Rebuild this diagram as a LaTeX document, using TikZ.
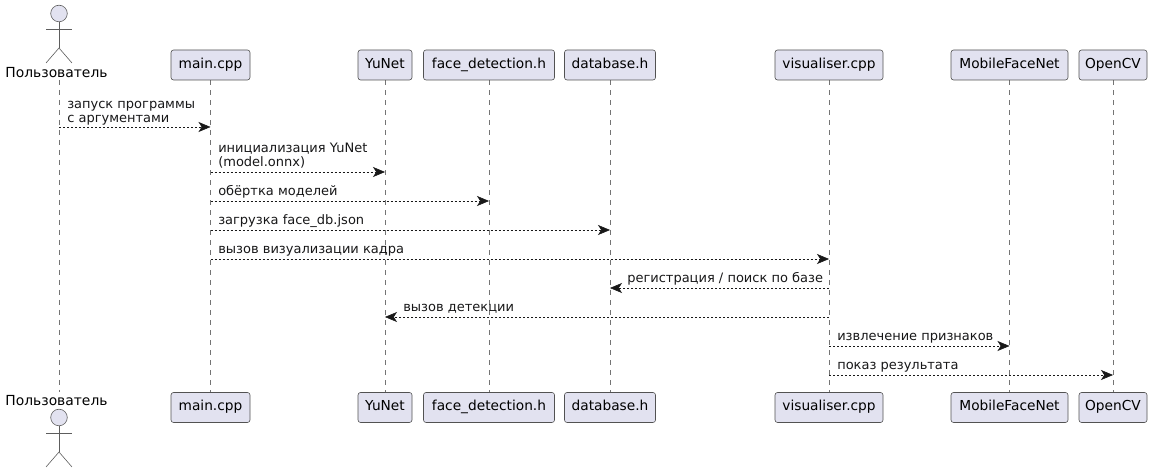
\documentclass[tikz,border=0pt]{standalone}
\usepackage{fontspec}
\setmainfont{DejaVu Sans}
\usetikzlibrary{arrows.meta,backgrounds}
\definecolor{partfill}{HTML}{E2E2F0}
\definecolor{partline}{HTML}{181818}
\tikzset{
  x=0.75pt,y=-0.75pt,
  part/.style={draw=partline!75,fill=partfill,rounded corners=1.9pt,line width=0.45pt,minimum height=22.5pt,inner sep=0pt,font=\fontsize{10.3pt}{12pt}\selectfont,text=black,text height=7.3pt,text depth=2.7pt},
  lifel/.style={draw=partline!60,line width=0.4pt,dash pattern=on 3.75pt off 3.75pt},
  msg/.style={draw=partline,line width=0.4pt,dash pattern=on 1.5pt off 1.5pt,-{Stealth[length=9pt,width=7.5pt,inset=2.4pt,fill=partline]}},
  msgtext/.style={anchor=base west,inner sep=0pt,font=\fontsize{9.75pt}{12pt}\selectfont,text=black!90!partfill,align=left},
  actorlabel/.style={inner sep=0pt,font=\fontsize{10.4pt}{12pt}\selectfont,text=black,text height=7.8pt,text depth=2.2pt},
  actorline/.style={draw=partline!70,line width=0.45pt},
  actorhead/.style={draw=partline!70,fill=partfill,line width=0.45pt},
}
\newcommand{\stickman}[2]{%
  \draw[actorline] (#1,#2+17) -- (#1,#2+43);
  \draw[actorline] (#1-13,#2+24) -- (#1+13,#2+24);
  \draw[actorline] (#1-13,#2+58) -- (#1,#2+43) -- (#1+13,#2+58);
  \draw[actorhead] (#1,#2+8.5) circle[radius=8.3];
}
\begin{document}
\begin{tikzpicture}
\useasboundingbox (0,0) rectangle (1154,473);
\coordinate (ut) at (59,80); \coordinate (ub) at (59,392);
\coordinate (m1) at (0,127); \coordinate (m2) at (0,172); \coordinate (m3) at (0,201);
\coordinate (m4) at (0,230); \coordinate (m5) at (0,259); \coordinate (m6) at (0,288);
\coordinate (m7) at (0,317); \coordinate (m8) at (0,346); \coordinate (m9) at (0,375);
% top
\node[part,minimum width=59.25pt] (maint) at (210.5,65) {main.cpp};
\node[part,minimum width=40.5pt] (yut) at (385,65) {YuNet};
\node[part,minimum width=98.25pt] (fdt) at (489,65) {face\_detection.h};
\node[part,minimum width=68.25pt] (dbt) at (610,65) {database.h};
\node[part,minimum width=81pt] (vit) at (829,65) {visualiser.cpp};
\node[part,minimum width=87.75pt] (mot) at (1009.5,65) {MobileFaceNet};
\node[part,minimum width=51pt] (ocvt) at (1113,65) {OpenCV};
% bottom
\node[part,minimum width=59.25pt] (mainb) at (210.5,407.5) {main.cpp};
\node[part,minimum width=40.5pt] (yub) at (385,407.5) {YuNet};
\node[part,minimum width=98.25pt] (fdb) at (489,407.5) {face\_detection.h};
\node[part,minimum width=68.25pt] (dbb) at (610,407.5) {database.h};
\node[part,minimum width=81pt] (vib) at (829,407.5) {visualiser.cpp};
\node[part,minimum width=87.75pt] (mob) at (1009.5,407.5) {MobileFaceNet};
\node[part,minimum width=51pt] (ocvb) at (1113,407.5) {OpenCV};
% lifelines
\begin{scope}[on background layer]
\draw[lifel] (ut) -- (ub);
\draw[lifel] (maint) -- (mainb);
\draw[lifel] (yut) -- (yub);
\draw[lifel] (fdt) -- (fdb);
\draw[lifel] (dbt) -- (dbb);
\draw[lifel] (vit) -- (vib);
\draw[lifel] (mot) -- (mob);
\draw[lifel] (ocvt) -- (ocvb);
\end{scope}
% actors
\stickman{59}{5}
\node[actorlabel] (ulabt) at (56.5,74) {Пользователь};
\node[actorlabel] (ulabb) at (56.5,402) {Пользователь};
\stickman{59}{409}
% messages
\draw[msg] (ut |- m1) -- (maint |- m1);
\node[msgtext] at (67,108.5) {запуск программы};
\node[msgtext] at (67,122.5) {с аргументами};
\draw[msg] (maint |- m2) -- (yut |- m2);
\node[msgtext] at (218,153) {инициализация YuNet};
\node[msgtext] at (218,167) {(model.onnx)};
\draw[msg] (maint |- m3) -- (fdt |- m3);
\node[msgtext] at (218,196) {обёртка моделей};
\draw[msg] (maint |- m4) -- (dbt |- m4);
\node[msgtext] at (218,225) {загрузка face\_db.json};
\draw[msg] (maint |- m5) -- (vit |- m5);
\node[msgtext] at (218,254) {вызов визуализации кадра};
\draw[msg] (vit |- m6) -- (dbt |- m6);
\node[msgtext] at (627,283) {регистрация / поиск по базе};
\draw[msg] (vit |- m7) -- (yut |- m7);
\node[msgtext] at (403,312) {вызов детекции};
\draw[msg] (vit |- m8) -- (mot |- m8);
\node[msgtext] at (837,341) {извлечение признаков};
\draw[msg] (vit |- m9) -- (ocvt |- m9);
\node[msgtext] at (837,370) {показ результата};
\end{tikzpicture}
\end{document}
